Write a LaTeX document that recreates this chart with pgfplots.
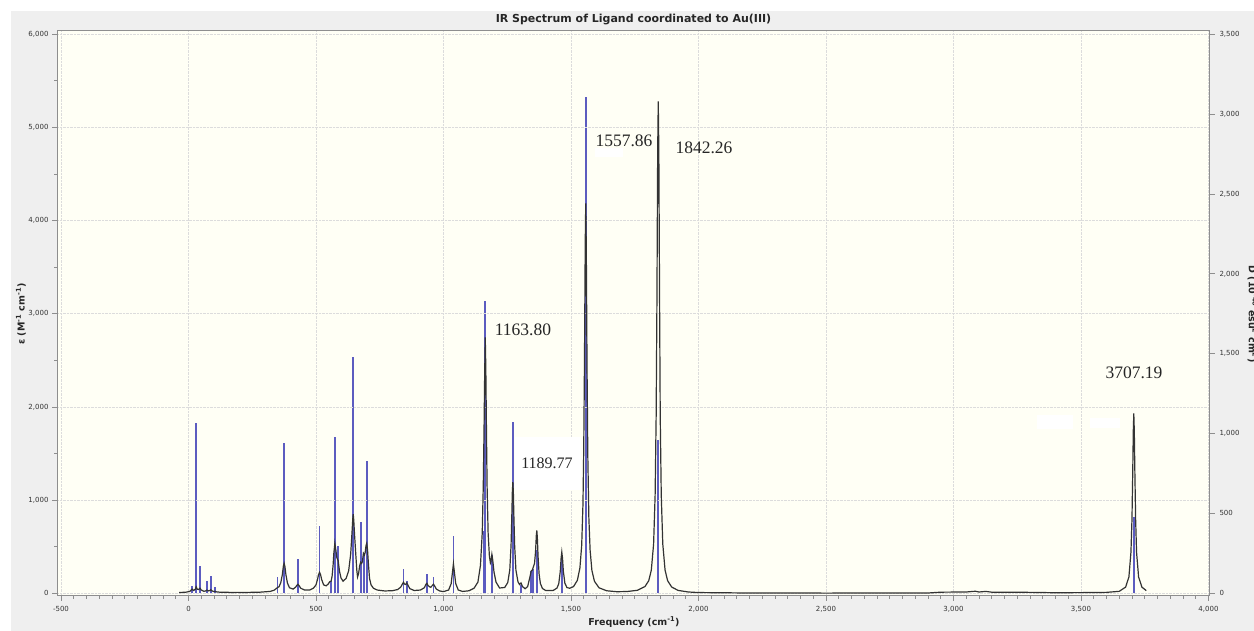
\documentclass[border=0pt]{standalone}
\usepackage{pgfplots}
\usepackage{pgfplotstable}
\pgfplotsset{compat=1.18}
\usepackage{fontspec}
\setmainfont{DejaVu Sans}
\newfontfamily\peakfont{Liberation Serif}

\definecolor{panelgrey}{HTML}{EFEFEF}
\definecolor{plotcream}{HTML}{FFFFF5}
\definecolor{framegrey}{HTML}{8E8E8E}
\definecolor{stickblue}{RGB}{92,92,192}
\definecolor{curvegrey}{HTML}{333333}
\definecolor{gridgrey}{HTML}{DCDCDC}

% broadened IR spectrum: frequency (cm^-1), epsilon (M^-1 cm^-1)
\pgfplotstableread{
freq eps
-37 8
-10 12
5 20
14 45
20 30
27 45
30 70
34 45
40 40
45 55
50 35
60 22
68 25
72 35
77 25
84 30
87 38
91 28
100 18
104 22
110 15
130 10
146 12
170 8
190 10
206 9
222 9
242 10
280 12
320 20
335 32
343 48
349 62
355 70
362 115
368 200
372 290
375 322
378 290
382 200
388 110
396 60
410 45
420 65
425 85
429 97
433 85
440 55
455 35
475 35
490 55
500 90
506 150
510 200
514 225
518 200
522 150
530 90
540 80
548 100
554 125
559 129
563 180
567 300
570 430
574 536
578 460
582 380
587 350
592 240
598 165
606 130
618 160
628 240
636 420
641 640
644 790
646 848
648 790
651 640
656 420
660 250
663 175
667 210
671 290
675 333
679 320
682 340
686 429
690 410
693 440
696 510
699 536
702 470
706 300
710 160
716 90
725 55
740 35
770 25
800 28
820 40
832 65
838 95
843 118
847 100
851 95
856 110
860 90
868 50
885 30
910 35
925 60
931 95
935 107
939 85
945 70
950 65
955 80
961 97
965 80
972 45
985 25
1000 18
1020 35
1030 102
1035 220
1039 317
1043 221
1048 103
1058 35
1075 20
1100 27
1120 55
1135 120
1145 300
1152 650
1156 1150
1159 1750
1161.5 2350
1163.8 2747
1166 2420
1168.5 1750
1171 1150
1175 650
1180 400
1184 325
1186 340
1189.77 418
1193 360
1198 230
1206 120
1220 57
1240 62
1252 115
1260 250
1265 516
1268 836
1270 1085
1272 1194
1274 1085
1276 836
1279 516
1284 250
1292 125
1298 95
1304 111
1310 72
1320 49
1330 72
1338 163
1344 239
1348 248
1353 288
1357 319
1361 447
1364 618
1366 676
1368 602
1371 390
1375 205
1380 105
1388 52
1400 31
1430 30
1445 56
1452 102
1458 235
1461 368
1464 443
1467 370
1470 238
1476 109
1484 62
1495 54
1510 72
1525 139
1535 272
1542 515
1547 958
1550 1540
1553 2527
1555.9 3767
1557.86 4185
1560 3712
1563 2415
1566 1473
1570 820
1575 463
1582 246
1592 129
1610 59
1640 27
1680 17
1720 19
1760 32
1790 72
1805 135
1815 248
1824 528
1830 1056
1834 1901
1837 3115
1840 4752
1842.26 5280
1844.5 4752
1847.5 3115
1850 1901
1854 1056
1860 528
1869 248
1879 135
1895 67
1920 31
1960 14
2000 8
2200 3
2500 2
2900 3
2950 12
3050 14
3086 22
3100 14
3127 20
3150 12
3300 10
3400 6
3550 8
3600 10
3650 21
3675 66
3688 175
3696 441
3700 792
3703 1296
3705.2 1738
3707.19 1931
3709.2 1738
3711.4 1296
3714.4 792
3718 441
3726 175
3739 66
3756 29
}\spectrum

% computed transitions: frequency (cm^-1), dipole strength D (10^-40 esu^2 cm^2)
\pgfplotstableread{
freq D
14 44
30 1069
45 169
72 75
87 110
104 39
146 8
190 6
206 6
222 6
242 8
349 100
375 943
429 212
514 419
558 75
574 981
587 296
646 1481
675 446
689 240
699 831
843 150
856 75
935 119
961 100
1039 356
1158 389
1163.80 1831
1189.77 240
1272 1071
1304 50
1344 140
1350 150
1366 269
1464 240
1557.86 3106
1842.26 962
3707.19 475
}\sticks

\pgfplotsset{
  specframe/.style={
    at={(57pt,35pt)}, anchor=south west, scale only axis,
    width=1153pt, height=565pt,
    xmin=-515.7, xmax=4005.9,
    axis line style={framegrey, line width=1pt, -},
    tick align=outside,
    major tick length=5pt, minor tick length=3pt,
    every tick/.style={framegrey, line width=0.8pt},
    tick label style={font=\fontsize{7}{8}\selectfont, text=black!80},
  }
}

\begin{document}
\begin{tikzpicture}[x=1pt,y=1pt]
\useasboundingbox (0,0) rectangle (1254,631);
\fill[white] (0,0) rectangle (1254,631);
\fill[panelgrey] (11,0) rectangle (1254,620);

\node[font=\bfseries\fontsize{11}{13}\selectfont, text=black!85] at (633.5,611)
  {IR Spectrum of Ligand coordinated to Au(III)};

% dipole-strength sticks on the right-hand scale (drawn first, under the curve)
\begin{axis}[specframe,
  ymin=-17, ymax=3520.4,
  axis background/.style={fill=plotcream},
  axis x line=none, axis y line*=right,
  ytick={0,500,...,3500},
  yticklabels={0,500,{1,000},{1,500},{2,000},{2,500},{3,000},{3,500}},
  yticklabel style={xshift=1pt},
]
\addplot[ycomb, stickblue, line width=1.8pt] table[x=freq, y=D] {\sticks};
\end{axis}

% broadened spectrum on the left-hand scale
\begin{axis}[specframe,
  ymin=-29, ymax=6035,
  tick pos=left,
  xtick={-500,0,...,4000},
  xticklabels={-500,0,500,{1,000},{1,500},{2,000},{2,500},{3,000},{3,500},{4,000}},
  ytick={0,1000,...,6000},
  yticklabels={0,{1,000},{2,000},{3,000},{4,000},{5,000},{6,000}},
  minor x tick num=9, minor y tick num=1,
  xticklabel style={yshift=-2pt},
  xmajorgrids, ymajorgrids,
  major grid style={gridgrey, densely dotted, line width=0.6pt},
]
\addplot[curvegrey, line width=1.2pt] table[x=freq, y=eps] {\spectrum};
\end{axis}

% axis titles
\node[rotate=90, font=\bfseries\fontsize{9.5}{11}\selectfont, text=black!85] at (21,317)
  {ε (M\textsuperscript{-1} cm\textsuperscript{-1})};
\node[font=\bfseries\fontsize{9.5}{11}\selectfont, text=black!85] at (634,9)
  {Frequency (cm\textsuperscript{-1})};
\node[rotate=-90, anchor=south, font=\bfseries\fontsize{9.5}{11}\selectfont, text=black!85] at (1244,317)
  {D (10\textsuperscript{-40} esu\textsuperscript{2} cm\textsuperscript{2})};

% annotation patches and peak labels
\fill[white] (515,141) rectangle (581,194);
\fill[white] (595,474) rectangle (623,483);
\fill[white] (1037,202) rectangle (1073,216);
\fill[white] (1090,203) rectangle (1120,213);
\begin{scope}[every node/.style={font=\peakfont\fontsize{17.5}{20}\selectfont, text=black!85}]
\node at (624,490) {1557.86};
\node at (704,483) {1842.26};
\node at (523,301) {1163.80};
\node at (1134,258) {3707.19};
\node[font=\peakfont\fontsize{16}{18}\selectfont] at (547,168) {1189.77};
\end{scope}
\end{tikzpicture}
\end{document}
